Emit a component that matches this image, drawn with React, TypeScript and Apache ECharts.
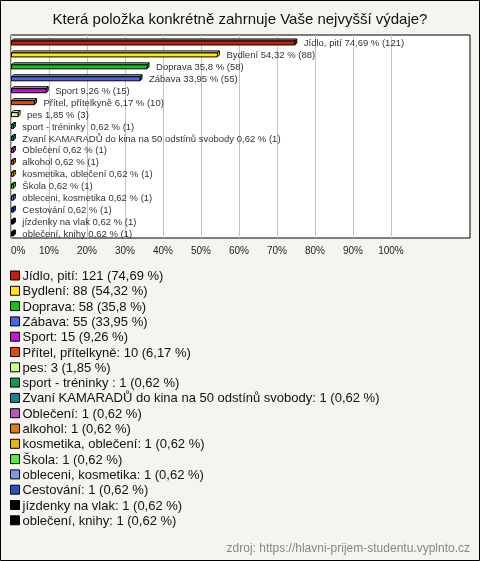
import React, { useEffect, useRef } from "react";
import * as echarts from "echarts";

const categories = [
  "Jídlo, pití",
  "Bydlení",
  "Doprava",
  "Zábava",
  "Sport",
  "Přítel, přítelkyně",
  "pes",
  "sport - tréninky ",
  "Zvaní KAMARADŮ do kina na 50 odstínů svobody",
  "Oblečení",
  "alkohol",
  "kosmetika, oblečení",
  "Škola",
  "obleceni, kosmetika",
  "Cestování",
  "jízdenky na vlak",
  "oblečení, knihy",
];
const counts = [121, 88, 58, 55, 15, 10, 3, 1, 1, 1, 1, 1, 1, 1, 1, 1, 1];
const percents = [74.69, 54.32, 35.8, 33.95, 9.26, 6.17, 1.85, 0.62, 0.62, 0.62, 0.62, 0.62, 0.62, 0.62, 0.62, 0.62, 0.62];
const colors = [
  "#c81e08", "#ffe800", "#10c810", "#4468ec", "#c814d8", "#e84410", "#ccff88", "#10985a",
  "#108494", "#b858b8", "#e87810", "#e8b800", "#58ec38", "#7898e8", "#2454c4", "#000000", "#000000",
];
const tickValues = [0, 10, 20, 30, 40, 50, 60, 70, 80, 90, 100];

const FONT = "'Liberation Sans', Arial, sans-serif";
const fmt = (n: number) => String(n).replace(".", ",");

function lighten(hex: string, t: number) {
  const n = parseInt(hex.slice(1), 16);
  const r = (n >> 16) & 255, g = (n >> 8) & 255, b = n & 255;
  const m = (c: number) => Math.round(c + (255 - c) * t);
  return `rgb(${m(r)},${m(g)},${m(b)})`;
}

export default function App() {
  const ref = useRef<HTMLDivElement>(null);
  useEffect(() => {
    if (!ref.current) return;
    const chart = echarts.init(ref.current, null, { renderer: "svg" });
    const gridColors = Array.from({ length: 14 }, (_, i) => (i <= 10 ? "#c4c4c4" : "rgba(0,0,0,0)"));

    const series: any[] = categories.map((name, k) => ({
      type: "custom",
      name,
      itemStyle: { color: colors[k] },
      encode: { x: 0, y: 1 },
      data: [[percents[k], k]],
      renderItem: (params: any, api: any) => {
        const v = api.value(0);
        const c = api.value(1);
        const p0 = api.coord([0, c]);
        const p1 = api.coord([v, c]);
        const x0 = p0[0] + 0.5;
        const x1 = Math.max(p1[0], x0 + 1.5);
        const cy = p0[1] + 1;
        const d = 2;
        const col = colors[k];
        const top = lighten(col, 0.45);
        const stroke = { stroke: "#000", lineWidth: 1 };
        return {
          type: "group",
          children: [
            {
              type: "polygon",
              shape: { points: [[x0, cy - 1], [x0 + d, cy - 1 - d], [x1 + d, cy - 1 - d], [x1, cy - 1]] },
              style: { fill: top, ...stroke },
            },
            {
              type: "polygon",
              shape: { points: [[x1, cy - 1], [x1 + d, cy - 1 - d], [x1 + d, cy + 3 - d], [x1, cy + 3]] },
              style: { fill: col, ...stroke },
            },
            {
              type: "rect",
              shape: { x: x0, y: cy - 1, width: x1 - x0, height: 4 },
              style: { fill: col, ...stroke },
            },
            {
              type: "text",
              style: {
                text: `${name} ${fmt(percents[k])} % (${counts[k]})`,
                x: x1 + d + 7,
                y: cy + 0.5,
                verticalAlign: "middle",
                fontSize: 9.5,
                fontFamily: FONT,
                fill: "#333",
              },
            },
          ],
        };
      },
    }));

    chart.setOption({
      animation: false,
      graphic: [
        {
          type: "rect",
          z: -10,
          shape: { x: 0.5, y: 0.5, width: 479, height: 560 },
          style: { fill: "#f5f4ee", stroke: "#000", lineWidth: 1 },
        },
        {
          type: "text",
          left: "center",
          top: 11,
          style: {
            text: "Která položka konkrétně zahrnuje Vaše nejvyšší výdaje?",
            fontSize: 15,
            fontFamily: FONT,
            fill: "#111",
          },
        },
        {
          type: "text",
          right: 10,
          top: 542,
          style: {
            text: "zdroj: https://hlavni-prijem-studentu.vyplnto.cz",
            fontSize: 12,
            fontFamily: FONT,
            fill: "#888",
          },
        },
      ],
      grid: {
        left: 11,
        right: 10,
        top: 35,
        bottom: 323,
        show: true,
        backgroundColor: "#fff",
        borderColor: "#000",
        borderWidth: 1,
        containLabel: false,
      },
      xAxis: {
        type: "value",
        min: 0,
        max: 120.8,
        interval: 10,
        axisLine: { show: false },
        axisTick: { show: false },
        splitLine: { show: true, lineStyle: { color: gridColors, width: 1 } },
        axisLabel: {
          margin: 7,
          fontSize: 10,
          fontFamily: FONT,
          color: "#222",
          alignMinLabel: "left",
          formatter: (val: number) => (tickValues.includes(val) ? `${val}%` : ""),
        },
      },
      yAxis: {
        type: "category",
        data: categories,
        inverse: true,
        axisLine: { show: false },
        axisTick: { show: false },
        axisLabel: { show: false },
        splitLine: { show: false },
      },
      legend: {
        orient: "vertical",
        left: 10,
        top: 268,
        padding: 0,
        itemWidth: 9,
        itemHeight: 9,
        itemGap: 0.3,
        icon: "rect",
        itemStyle: { borderColor: "#000", borderWidth: 1 },
        selectedMode: false,
        textStyle: {
          fontSize: 13,
          fontFamily: FONT,
          color: "#111",
          lineHeight: 15,
          padding: [0, 0, 0, -2],
        },
        formatter: (name: string) => {
          const k = categories.indexOf(name);
          return `${name}: ${counts[k]} (${fmt(percents[k])} %)`;
        },
        data: categories,
      },
      series,
    });
    return () => chart.dispose();
  }, []);
  return <div ref={ref} style={{ position: "fixed", left: 0, top: 0, width: 480, height: 561 }} />;
}
